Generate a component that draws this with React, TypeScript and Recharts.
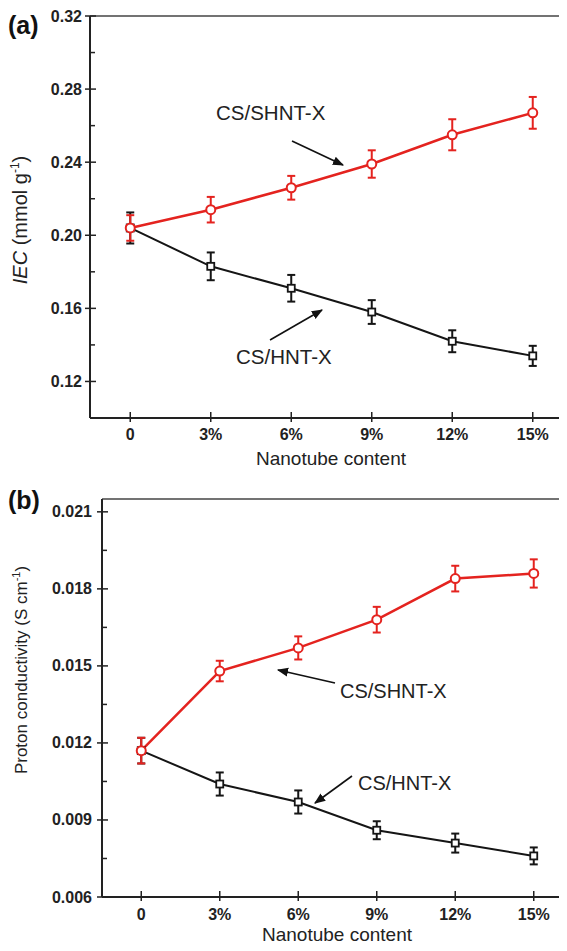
import React from 'react';
import { LineChart, Line, XAxis, YAxis, ErrorBar, ReferenceLine } from 'recharts';

const categories = ['0', '3%', '6%', '9%', '12%', '15%'];

// (a) ion exchange capacity
const iecShnt = [0.204, 0.214, 0.226, 0.239, 0.255, 0.267];
const iecShntErr = [0.007, 0.007, 0.0065, 0.0075, 0.0085, 0.0087];
const iecHnt = [0.204, 0.183, 0.171, 0.158, 0.142, 0.134];
const iecHntErr = [0.0085, 0.0076, 0.0073, 0.0065, 0.006, 0.0055];
const iecTicks = [0.12, 0.14, 0.16, 0.18, 0.2, 0.22, 0.24, 0.26, 0.28, 0.3, 0.32];
const iecMajor = [0.12, 0.16, 0.2, 0.24, 0.28, 0.32];

// (b) proton conductivity
const condShnt = [0.0117, 0.0148, 0.0157, 0.0168, 0.0184, 0.0186];
const condShntErr = [0.0005, 0.0004, 0.00045, 0.0005, 0.0005, 0.00055];
const condHnt = [0.0117, 0.0104, 0.0097, 0.0086, 0.0081, 0.0076];
const condHntErr = [0.0005, 0.00045, 0.00045, 0.00035, 0.00037, 0.00033];
const condTicks = [0.006, 0.0075, 0.009, 0.0105, 0.012, 0.0135, 0.015, 0.0165, 0.018, 0.0195, 0.021];
const condMajor = [0.006, 0.009, 0.012, 0.015, 0.018, 0.021];

const RED = '#e4231f';
const BLACK = '#151515';
const AXIS = '#222';
const FONT = '"Liberation Sans", Arial, sans-serif';

const build = (shnt: number[], shntErr: number[], hnt: number[], hntErr: number[]) =>
  categories.map((c, i) => ({ idx: i, shnt: shnt[i], shntErr: shntErr[i], hnt: hnt[i], hntErr: hntErr[i] }));

const iecData = build(iecShnt, iecShntErr, iecHnt, iecHntErr);
const condData = build(condShnt, condShntErr, condHnt, condHntErr);

const isMajor = (v: number, majors: number[]) => majors.some((m) => Math.abs(m - v) < 1e-9);

const YTick = ({ x, y, payload, majors, digits, gap }: any) => {
  const major = isMajor(payload.value, majors);
  return (
    <g>
      {major ? (
        <line x1={x - 5} x2={x + 6} y1={y} y2={y} stroke={AXIS} strokeWidth={1.5} />
      ) : (
        <line x1={x} x2={x + 5} y1={y} y2={y} stroke={AXIS} strokeWidth={1.5} />
      )}
      {major && (
        <text x={x - gap} y={y} dy={5.5} textAnchor="end" fontSize={16} fontWeight="bold" fill="#222" fontFamily={FONT}>
          {payload.value.toFixed(digits)}
        </text>
      )}
    </g>
  );
};

const XTick = ({ x, y, payload, dy }: any) => (
  <g>
    <line x1={x} x2={x} y1={y - 6} y2={y + 4} stroke={AXIS} strokeWidth={1.5} />
    <text x={x} y={y + dy} textAnchor="middle" fontSize={16} fontWeight="bold" fill="#222" fontFamily={FONT}>
      {categories[payload.value]}
    </text>
  </g>
);

const CircleDot = (p: any) =>
  p.cx == null ? null : (
    <circle key={'c' + p.index} cx={p.cx} cy={p.cy} r={4.5} fill="#fff" stroke={RED} strokeWidth={2} />
  );

const SquareDot = (p: any) =>
  p.cx == null ? null : (
    <rect key={'s' + p.index} x={p.cx - 3.5} y={p.cy - 3.5} width={7} height={7} fill="#fff" stroke={BLACK} strokeWidth={1.8} />
  );

const Panel = ({ data, domain, ticks, majors, digits, gap, left, top, height, tickDy }: any) => (
  <div style={{ position: 'absolute', left: 0, top }}>
    <LineChart width={600} height={height} data={data} margin={{ top: 16, right: 27, left, bottom: 32 }}>
      <XAxis
        type="number"
        dataKey="idx"
        domain={[-0.5, 5.5]}
        ticks={[0, 1, 2, 3, 4, 5]}
        interval={0}
        height={30}
        tickSize={0}
        tickMargin={0}
        tickLine={false}
        axisLine={{ stroke: AXIS, strokeWidth: 2 }}
        tick={(p: any) => <XTick {...p} dy={tickDy} />}
      />
      <YAxis
        type="number"
        domain={domain}
        ticks={ticks}
        interval={0}
        width={60}
        tickSize={0}
        tickMargin={0}
        tickLine={false}
        allowDataOverflow
        axisLine={{ stroke: AXIS, strokeWidth: 2 }}
        tick={(p: any) => <YTick {...p} majors={majors} digits={digits} gap={gap} />}
      />
      <ReferenceLine y={domain[1]} stroke="#737373" strokeWidth={2} ifOverflow="visible" />
      <Line type="linear" dataKey="hnt" stroke={BLACK} strokeWidth={2} dot={SquareDot} isAnimationActive={false}>
        <ErrorBar dataKey="hntErr" direction="y" width={4} stroke={BLACK} strokeWidth={2} isAnimationActive={false} />
      </Line>
      <Line type="linear" dataKey="shnt" stroke={RED} strokeWidth={2.5} dot={CircleDot} isAnimationActive={false}>
        <ErrorBar dataKey="shntErr" direction="y" width={4} stroke={RED} strokeWidth={2} isAnimationActive={false} />
      </Line>
    </LineChart>
  </div>
);

const Overlay = () => (
  <svg width={567} height={951} style={{ position: 'absolute', left: 0, top: 0, pointerEvents: 'none' }} fontFamily={FONT}>
    <defs>
      <marker id="arr" viewBox="0 0 10 10" refX="9" refY="5" markerWidth="7" markerHeight="7" orient="auto">
        <path d="M0,1 L10,5 L0,9 z" fill="#111" />
      </marker>
    </defs>
    <text x={8} y={34} fontSize={25} fontWeight="bold" fill="#111">(a)</text>
    <text x={8} y={509} fontSize={25} fontWeight="bold" fill="#111">(b)</text>

    <text transform="translate(27,220) rotate(-90)" textAnchor="middle" fontSize={20} fill="#222">
      <tspan fontStyle="italic">IEC</tspan> (mmol g<tspan fontSize={12} dy={-8}>-1</tspan><tspan dy={8}>)</tspan>
    </text>
    <text transform="translate(27,670) rotate(-90)" textAnchor="middle" fontSize={17} fill="#222">
      Proton conductivity (S cm<tspan fontSize={11} dy={-7}>-1</tspan><tspan dy={7}>)</tspan>
    </text>

    <text x={331} y={465} textAnchor="middle" fontSize={19} fill="#222">Nanotube content</text>
    <text x={337} y={941} textAnchor="middle" fontSize={19} fill="#222">Nanotube content</text>

    <text x={216} y={120} fontSize={20.5} fill="#222">CS/SHNT-X</text>
    <line x1={292} y1={141} x2={343} y2={165} stroke="#111" strokeWidth={1.6} markerEnd="url(#arr)" />
    <text x={236} y={364} fontSize={20.5} fill="#222">CS/HNT-X</text>
    <line x1={270} y1={340} x2={322} y2={310} stroke="#111" strokeWidth={1.6} markerEnd="url(#arr)" />

    <text x={340} y={698} fontSize={20} fill="#222">CS/SHNT-X</text>
    <line x1={335} y1={683} x2={278} y2={670} stroke="#111" strokeWidth={1.6} markerEnd="url(#arr)" />
    <text x={358} y={790} fontSize={20} fill="#222">CS/HNT-X</text>
    <line x1={352} y1={776} x2={315} y2={803} stroke="#111" strokeWidth={1.6} markerEnd="url(#arr)" />
  </svg>
);

export default function App() {
  // outer box fills the body (567x951 minus the 8px margins); the inner box
  // is pulled back over the margin so the figure starts at the page corner
  return (
    <div style={{ position: 'relative', width: 551, height: 935, fontFamily: FONT }}>
      <div style={{ position: 'absolute', left: -8, top: -8, width: 567, height: 951, overflow: 'hidden', background: '#fff' }}>
        <Panel data={iecData} domain={[0.1, 0.32]} ticks={iecTicks} majors={iecMajor} digits={2} gap={8} left={30} top={0} height={480} tickDy={22} />
        <Panel data={condData} domain={[0.006, 0.0215]} ticks={condTicks} majors={condMajor} digits={3} gap={10} left={42} top={483} height={476} tickDy={23} />
        <Overlay />
      </div>
    </div>
  );
}
